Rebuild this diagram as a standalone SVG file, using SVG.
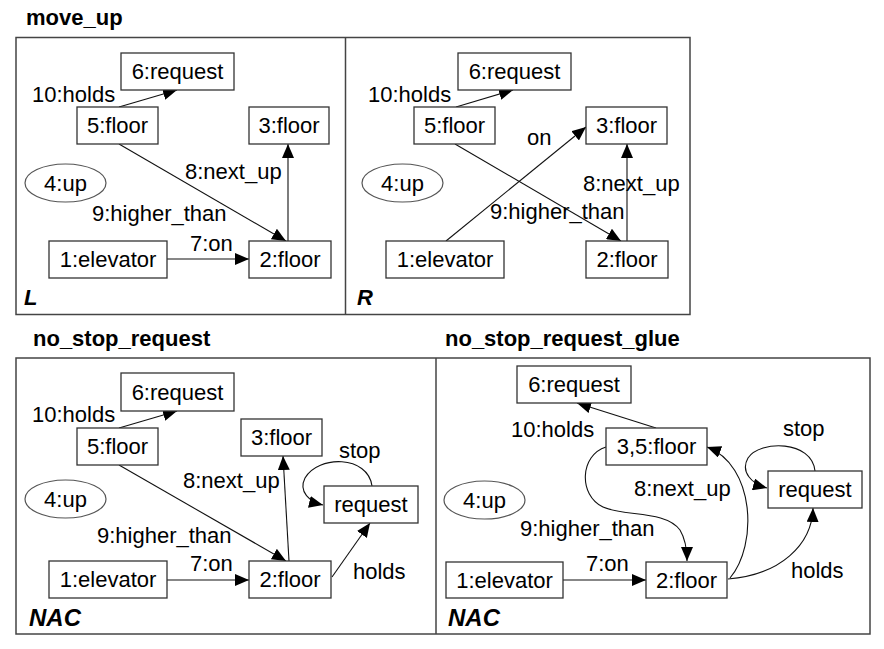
<svg xmlns="http://www.w3.org/2000/svg" width="884" height="649" viewBox="0 0 884 649">
<style>
text{font-family:"Liberation Sans",Arial,Helvetica,sans-serif;font-size:22px;fill:#000}
.title{font-weight:bold}
.side{font-weight:bold;font-style:italic}
.nac{font-size:24px}
.c{text-anchor:middle}
.frame{fill:#fff;stroke:#444;stroke-width:1.5}
.node rect{fill:#fff;stroke:#333;stroke-width:1.3}
.node ellipse{fill:#fff;stroke:#555;stroke-width:1.2}
.edge{fill:none;stroke:#111;stroke-width:1.1;marker-end:url(#arr)}
</style>
<defs>
<marker id="arr" viewBox="0 0 14 12" refX="14" refY="6" markerWidth="14" markerHeight="12" markerUnits="userSpaceOnUse" orient="auto">
<path d="M0,0 L14,6 L0,12 z" fill="#000"/>
</marker>
</defs>
<rect width="884" height="649" fill="#fff"/>

<g id="frames">
<rect class="frame" x="16" y="37.5" width="674" height="277"/>
<line x1="345.5" y1="37.5" x2="345.5" y2="314.5" stroke="#444" stroke-width="1.5"/>
<rect class="frame" x="16" y="358" width="854" height="276"/>
<line x1="436" y1="358" x2="436" y2="634" stroke="#444" stroke-width="1.5"/>
</g>

<g id="titles">
<text class="title" x="26" y="25">move_up</text>
<text class="title" x="33" y="346">no_stop_request</text>
<text class="title" x="445" y="346">no_stop_request_glue</text>
<text class="side" x="24" y="305">L</text>
<text class="side" x="357" y="305">R</text>
<text class="side nac" x="29" y="626">NAC</text>
<text class="side nac" x="448" y="626">NAC</text>
</g>

<g id="connectors">
<!-- L -->
<path class="edge" d="M119,107 L177,90"/>
<path class="edge" d="M119,144 L286,241"/>
<path class="edge" d="M288,241 L288,144"/>
<path class="edge" d="M167,259 L249,259"/>
<text x="32" y="102">10:holds</text>
<text x="92" y="221">9:higher_than</text>
<text x="185" y="179">8:next_up</text>
<text x="190" y="251">7:on</text>
<!-- R -->
<path class="edge" d="M456,107 L513,90"/>
<path class="edge" d="M446,241 L586,127"/>
<path class="edge" d="M455,144 L621,241"/>
<path class="edge" d="M627,241 L627,144"/>
<text x="368" y="102">10:holds</text>
<text x="527" y="145">on</text>
<text x="490" y="219">9:higher_than</text>
<text x="583" y="191">8:next_up</text>
<!-- NAC left -->
<path class="edge" d="M119,428 L177,411"/>
<path class="edge" d="M119,465 L286,561"/>
<path class="edge" d="M289,561 L283,456"/>
<path class="edge" d="M167,580 L249,580"/>
<path class="edge" d="M332,577 L370,523"/>
<path class="edge" d="M372,486 C368,455 318,455 305,478 C298,492 310,502 323,505"/>
<text x="32" y="422">10:holds</text>
<text x="97" y="543">9:higher_than</text>
<text x="183" y="488">8:next_up</text>
<text x="190" y="571">7:on</text>
<text x="353" y="579">holds</text>
<text x="339" y="458">stop</text>
<!-- NAC right -->
<path class="edge" d="M656,428 L577,403"/>
<path class="edge" d="M606,447 C580,455 578,495 603,507 C625,517 665,510 680,530 C686,540 687,550 687,561"/>
<path class="edge" d="M730,578 C758,545 755,465 707,447"/>
<path class="edge" d="M563,580 L646,580"/>
<path class="edge" d="M728,579 C780,575 812,545 813,508"/>
<path class="edge" d="M815,471 C812,440 760,440 748,458 C740,472 752,484 767,488"/>
<text x="511" y="437">10:holds</text>
<text x="520" y="536">9:higher_than</text>
<text x="634" y="496">8:next_up</text>
<text x="586" y="571">7:on</text>
<text x="791" y="578">holds</text>
<text x="783" y="436">stop</text>
</g>

<!-- L nodes -->
<g id="L6" class="node"><rect x="121" y="53" width="113" height="37"/><text class="c" x="177.5" y="79">6:request</text></g>
<g id="L5" class="node"><rect x="77" y="107" width="81" height="37"/><text class="c" x="117.5" y="133">5:floor</text></g>
<g id="L3" class="node"><rect x="249" y="107" width="80" height="37"/><text class="c" x="289" y="133">3:floor</text></g>
<g id="L4" class="node"><ellipse cx="65.5" cy="183" rx="40.5" ry="19"/><text class="c" x="65.5" y="191">4:up</text></g>
<g id="L1" class="node"><rect x="49" y="241" width="118" height="37"/><text class="c" x="108" y="267">1:elevator</text></g>
<g id="L2" class="node"><rect x="249" y="241" width="82" height="37"/><text class="c" x="290" y="267">2:floor</text></g>

<!-- R nodes -->
<g id="R6" class="node"><rect x="458" y="53" width="113" height="37"/><text class="c" x="514.5" y="79">6:request</text></g>
<g id="R5" class="node"><rect x="414" y="107" width="81" height="37"/><text class="c" x="454.5" y="133">5:floor</text></g>
<g id="R3" class="node"><rect x="586" y="107" width="81" height="37"/><text class="c" x="626.5" y="133">3:floor</text></g>
<g id="R4" class="node"><ellipse cx="402.5" cy="183" rx="40.5" ry="19"/><text class="c" x="402.5" y="191">4:up</text></g>
<g id="R1" class="node"><rect x="386" y="241" width="118" height="37"/><text class="c" x="445" y="267">1:elevator</text></g>
<g id="R2" class="node"><rect x="586" y="241" width="82" height="37"/><text class="c" x="627" y="267">2:floor</text></g>

<!-- NAC left nodes -->
<g id="N6" class="node"><rect x="121" y="373" width="113" height="38"/><text class="c" x="177.5" y="400">6:request</text></g>
<g id="N5" class="node"><rect x="77" y="428" width="81" height="37"/><text class="c" x="117.5" y="454">5:floor</text></g>
<g id="N3" class="node"><rect x="241" y="419" width="81" height="37"/><text class="c" x="281.5" y="445">3:floor</text></g>
<g id="Nreq" class="node"><rect x="324" y="486" width="94" height="37"/><text class="c" x="371" y="512">request</text></g>
<g id="N4" class="node"><ellipse cx="65.5" cy="499" rx="40.5" ry="19"/><text class="c" x="65.5" y="507">4:up</text></g>
<g id="N1" class="node"><rect x="49" y="561" width="118" height="37"/><text class="c" x="108" y="587">1:elevator</text></g>
<g id="N2" class="node"><rect x="249" y="561" width="82" height="37"/><text class="c" x="290" y="587">2:floor</text></g>

<!-- NAC glue nodes -->
<g id="G6" class="node"><rect x="517" y="366" width="114" height="37"/><text class="c" x="574" y="392">6:request</text></g>
<g id="G35" class="node"><rect x="606" y="428" width="101" height="37"/><text class="c" x="656.5" y="454">3,5:floor</text></g>
<g id="Greq" class="node"><rect x="768" y="471" width="94" height="37"/><text class="c" x="815" y="497">request</text></g>
<g id="G4" class="node"><ellipse cx="484.5" cy="500" rx="40.5" ry="19"/><text class="c" x="484.5" y="508">4:up</text></g>
<g id="G1" class="node"><rect x="446" y="562" width="117" height="36"/><text class="c" x="504.5" y="588">1:elevator</text></g>
<g id="G2" class="node"><rect x="646" y="562" width="81" height="36"/><text class="c" x="686.5" y="588">2:floor</text></g>
</svg>
